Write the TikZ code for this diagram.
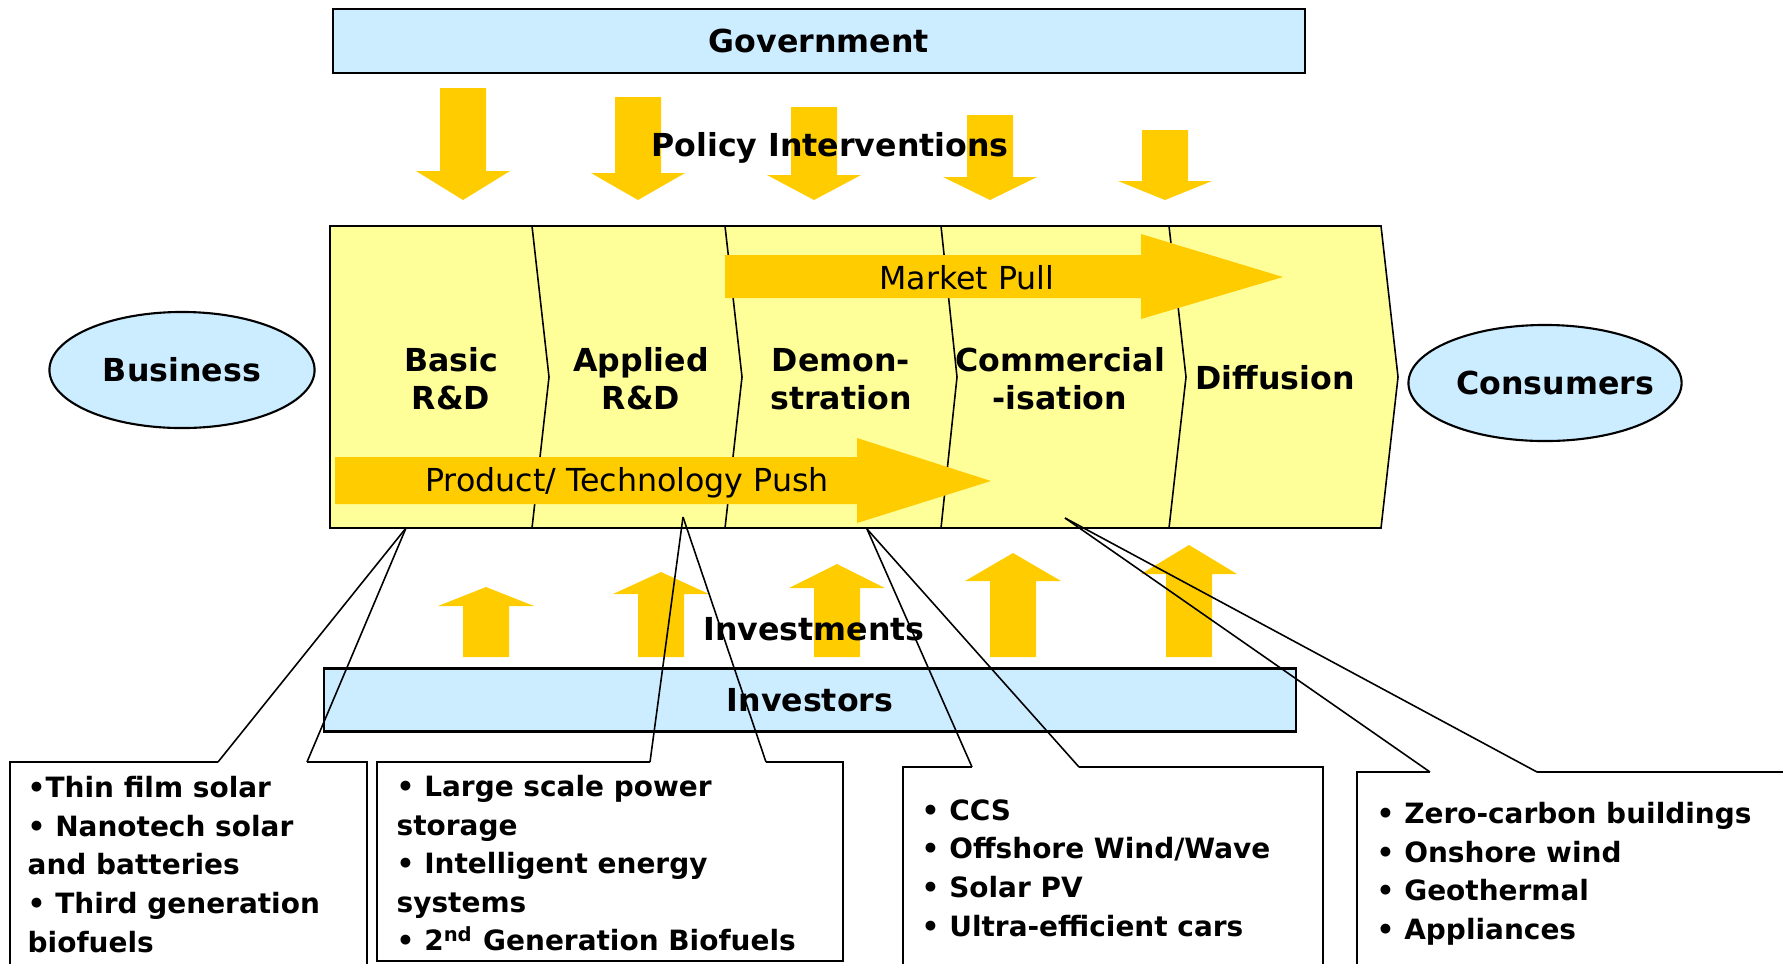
\documentclass[tikz,border=0pt]{standalone}
\usepackage{fontspec}
\setmainfont{DejaVu Sans}
\usepackage{xcolor}
\usepackage{tikz}
\usetikzlibrary{arrows.meta}
\usetikzlibrary{positioning, shapes.geometric, backgrounds}

\definecolor{paleblue}{RGB}{204,236,255}
\definecolor{paleyellow}{RGB}{255,255,153}
\definecolor{gold}{RGB}{255,204,0}

\begin{document}
\begin{tikzpicture}[x=0.01cm, y=-0.01cm,
    govbar/.style={rectangle, draw=black, line width=0.6pt, fill=paleblue, inner sep=0pt},
    oval/.style={ellipse, draw=black, line width=0.6pt, fill=paleblue, inner sep=0pt, minimum height=1.16cm},
    goldarrow/.style={fill=gold, draw=none},
    stagetext/.style={align=center, inner sep=0pt, font=\bfseries},
    bullets/.style={align=left, anchor=north west, inner sep=0pt, font=\fontsize{7.95}{10.95}\selectfont\bfseries}]
\fontsize{9}{10.8}\selectfont
\useasboundingbox (0,0) rectangle (1783,963);
\clip (0,0) rectangle (1783,963);

\node[govbar, minimum width=9.72cm, minimum height=0.64cm, font=\bfseries] (gov) at (819,41) {Government};

\begin{scope}[every path/.style={goldarrow}]
    \fill (440,88) -- (486,88) -- (486,171) -- (510,171) -- (463,200) -- (416,171) -- (440,171) -- cycle;
    \fill (615,97) -- (661,97) -- (661,173) -- (685,173) -- (638,200) -- (591,173) -- (615,173) -- cycle;
    \fill (791,107) -- (837,107) -- (837,175) -- (861,175) -- (814,200) -- (767,175) -- (791,175) -- cycle;
    \fill (967,115) -- (1013,115) -- (1013,177) -- (1037,177) -- (990,200) -- (943,177) -- (967,177) -- cycle;
    \fill (1142,130) -- (1188,130) -- (1188,181) -- (1212,181) -- (1165,200) -- (1118,181) -- (1142,181) -- cycle;
\end{scope}
\node[font=\bfseries, inner sep=0pt] (policy) at (830,148) {Policy Interventions};

\draw[fill=paleyellow, line width=0.45pt] (330,226) -- (1381,226) -- (1398,377) -- (1381,528) -- (330,528) -- cycle;
\begin{scope}[line width=0.45pt]
    \draw (532,226) -- (549,377) -- (532,528);
    \draw (725,226) -- (742,377) -- (725,528);
    \draw (941,226) -- (957,377) -- (941,528);
    \draw (1169,226) -- (1186,377) -- (1169,528);
\end{scope}

\fill[goldarrow] (725,255) -- (1141,255) -- (1141,234) -- (1283,277) -- (1141,319) -- (1141,298) -- (725,298) -- cycle;
\node[inner sep=0pt] (pull) at (967,278) {Market Pull};
\fill[goldarrow] (335,457) -- (857,457) -- (857,438) -- (991,481) -- (857,523) -- (857,504) -- (335,504) -- cycle;
\node[inner sep=0pt] (push) at (627,483) {Product/ Technology Push};

\begin{scope}[every node/.style={stagetext}]
    \node (basic) at (451,379) {Basic\\R\&D};
    \node (applied) at (641,379) {Applied\\R\&D};
    \node (demo) at (841,379) {Demon-\\stration};
    \node (commerce) at (1060,379) {Commercial\\-isation};
    \node (diffusion) at (1275,378) {Diffusion};
\end{scope}

\node[oval, minimum width=2.65cm, font=\bfseries] (business) at (182,370) {\makebox[0pt]{Business}};
\node[oval, minimum width=2.73cm, font=\bfseries] (consumers) at (1545,383) {\makebox[0pt]{\hspace{0.2cm}Consumers}};

\begin{scope}[every path/.style={goldarrow}]
    \fill (463,657) -- (509,657) -- (509,606) -- (534,606) -- (486,587) -- (438,606) -- (463,606) -- cycle;
    \fill (638,657) -- (684,657) -- (684,594) -- (709,594) -- (661,572) -- (613,594) -- (638,594) -- cycle;
    \fill (814,657) -- (860,657) -- (860,588) -- (885,588) -- (837,564) -- (789,588) -- (814,588) -- cycle;
    \fill (990,657) -- (1036,657) -- (1036,581) -- (1061,581) -- (1013,553) -- (965,581) -- (990,581) -- cycle;
    \fill (1166,657) -- (1212,657) -- (1212,574) -- (1237,574) -- (1189,545) -- (1141,574) -- (1166,574) -- cycle;
\end{scope}
\node[font=\bfseries, inner sep=0pt] (investments) at (814,629) {Investments};

\node[govbar, minimum width=9.72cm, minimum height=0.63cm, font=\bfseries] (investors) at (810,700) {Investors};

\begin{scope}[every node/.style={inner sep=0pt, minimum size=0pt}]
    \coordinate (pin1) at (406,528);
    \coordinate (pin2) at (683,517);
    \coordinate (pin3) at (867,529);
    \coordinate (pin4) at (1065,518);
    \coordinate (c1a) at (218,762);
    \coordinate (c1b) at (307,762);
    \coordinate (c2a) at (650,762);
    \coordinate (c2b) at (766,762);
    \coordinate (c3a) at (972,767);
    \coordinate (c3b) at (1079,767);
    \coordinate (c4a) at (1430,772);
    \coordinate (c4b) at (1537,772);
\end{scope}

\begin{scope}[line width=0.45pt]
    \draw (10,980) |- (c1a);
    \draw (c1b) -| (367,980);
    \draw (c2a) -| (377,961) -| (843,762) -- (c2b);
    \draw (903,980) |- (c3a);
    \draw (c3b) -| (1323,980);
    \draw (1357,980) |- (c4a);
    \draw (c4b) -- (1790,772);
\end{scope}

\begin{scope}[every edge/.style={draw=black, line width=0.45pt}]
    \path [-] (c1a) edge (pin1);
    \path [-] (pin1) edge (c1b);
    \path [-] (c2a) edge (pin2);
    \path [-] (pin2) edge (c2b);
    \path [-] (c3a) edge (pin3);
    \path [-] (pin3) edge (c3b);
    \path [-] (c4a) edge (pin4);
    \path [-] (pin4) edge (c4b);
\end{scope}

\begin{scope}[every node/.style={bullets}]
    \node (list1) at (27,776) {•Thin film solar\\• Nanotech solar\\and batteries\\• Third generation\\biofuels};
    \node (list2) at (396,775) {• Large scale power\\storage\\• Intelligent energy\\systems\\• 2\textsuperscript{nd} Generation Biofuels};
    \node (list3) at (921,799) {• CCS\\• Offshore Wind/Wave\\• Solar PV\\• Ultra-efficient cars};
    \node (list4) at (1376,802) {• Zero-carbon buildings\\• Onshore wind\\• Geothermal\\• Appliances};
\end{scope}

\end{tikzpicture}
\end{document}
